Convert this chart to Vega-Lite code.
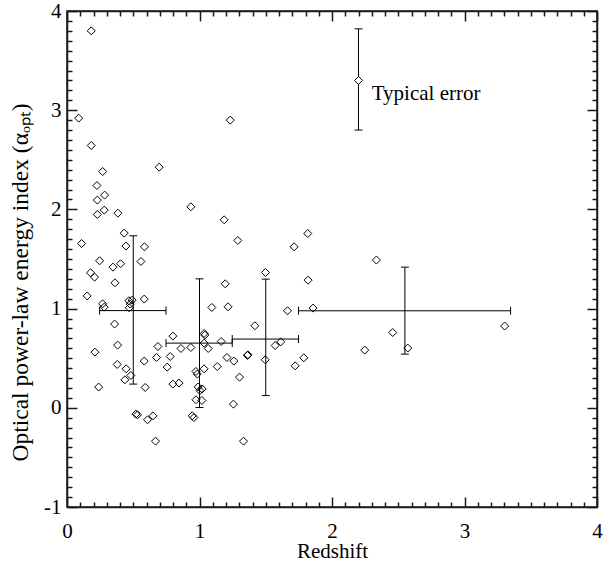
{
  "$schema": "https://vega.github.io/schema/vega-lite/v6.json",
  "width": 530,
  "height": 496,
  "autosize": {"type": "none"},
  "padding": {"left": 67, "top": 11, "right": 6, "bottom": 60},
  "background": "white",
  "config": {
    "view": {"stroke": "#1a1a1a", "strokeWidth": 1.5},
    "font": "Liberation Serif",
    "axis": {
      "grid": false,
      "domainColor": "#1a1a1a",
      "domainWidth": 1.5,
      "tickColor": "#1a1a1a",
      "tickWidth": 1.5,
      "labelColor": "#000000",
      "titleColor": "#000000",
      "labelFont": "Liberation Serif",
      "titleFont": "Liberation Serif",
      "labelFontSize": 21,
      "titleFontSize": 21,
      "titleFontWeight": "normal"
    }
  },
  "datasets": {
    "pts": [
      {"z": 0.183, "a": 3.80}, {"z": 0.088, "a": 2.92}, {"z": 1.232, "a": 2.90}, {"z": 0.183, "a": 2.644},
      {"z": 0.269, "a": 2.382}, {"z": 0.696, "a": 2.426}, {"z": 0.226, "a": 2.241}, {"z": 0.284, "a": 2.144},
      {"z": 0.229, "a": 2.094}, {"z": 0.281, "a": 1.993}, {"z": 0.229, "a": 1.949}, {"z": 0.384, "a": 1.962},
      {"z": 0.935, "a": 2.026}, {"z": 1.186, "a": 1.895}, {"z": 1.289, "a": 1.687}, {"z": 0.110, "a": 1.656},
      {"z": 0.432, "a": 1.761}, {"z": 0.445, "a": 1.630}, {"z": 0.585, "a": 1.623}, {"z": 0.246, "a": 1.482},
      {"z": 0.558, "a": 1.475}, {"z": 0.347, "a": 1.418}, {"z": 0.404, "a": 1.452}, {"z": 0.178, "a": 1.361},
      {"z": 0.208, "a": 1.317}, {"z": 0.362, "a": 1.260}, {"z": 1.194, "a": 1.250}, {"z": 0.152, "a": 1.128},
      {"z": 0.269, "a": 1.048}, {"z": 0.281, "a": 1.015}, {"z": 0.467, "a": 1.079}, {"z": 0.492, "a": 1.086},
      {"z": 0.477, "a": 1.045}, {"z": 0.470, "a": 1.008}, {"z": 0.583, "a": 1.096}, {"z": 1.093, "a": 1.011},
      {"z": 1.216, "a": 1.018}, {"z": 0.359, "a": 0.844}, {"z": 0.382, "a": 0.632}, {"z": 0.211, "a": 0.561},
      {"z": 0.799, "a": 0.723}, {"z": 0.686, "a": 0.618}, {"z": 0.860, "a": 0.598}, {"z": 0.935, "a": 0.608},
      {"z": 1.035, "a": 0.749}, {"z": 1.040, "a": 0.733}, {"z": 1.035, "a": 0.652}, {"z": 1.066, "a": 0.598},
      {"z": 1.164, "a": 0.668}, {"z": 1.207, "a": 0.507}, {"z": 1.259, "a": 0.471}, {"z": 1.362, "a": 0.527},
      {"z": 0.583, "a": 0.471}, {"z": 0.676, "a": 0.507}, {"z": 0.779, "a": 0.517}, {"z": 0.379, "a": 0.437},
      {"z": 0.447, "a": 0.393}, {"z": 0.756, "a": 0.410}, {"z": 1.134, "a": 0.416}, {"z": 1.035, "a": 0.393},
      {"z": 0.973, "a": 0.366}, {"z": 0.983, "a": 0.340}, {"z": 0.437, "a": 0.282}, {"z": 0.482, "a": 0.326},
      {"z": 0.239, "a": 0.209}, {"z": 0.590, "a": 0.205}, {"z": 0.799, "a": 0.239}, {"z": 0.845, "a": 0.249},
      {"z": 1.302, "a": 0.309}, {"z": 0.990, "a": 0.210}, {"z": 1.020, "a": 0.190}, {"z": 1.003, "a": 0.175},
      {"z": 0.973, "a": 0.081}, {"z": 1.018, "a": 0.074}, {"z": 1.256, "a": 0.037}, {"z": 0.520, "a": -0.064},
      {"z": 0.532, "a": -0.071}, {"z": 0.649, "a": -0.081}, {"z": 0.608, "a": -0.121}, {"z": 0.945, "a": -0.081},
      {"z": 0.958, "a": -0.098}, {"z": 0.668, "a": -0.336}, {"z": 1.332, "a": -0.336}, {"z": 1.820, "a": 1.287},
      {"z": 1.664, "a": 0.978}, {"z": 1.857, "a": 1.005}, {"z": 1.418, "a": 0.827}, {"z": 1.571, "a": 0.628},
      {"z": 1.613, "a": 0.665}, {"z": 1.365, "a": 0.534}, {"z": 1.496, "a": 0.484}, {"z": 1.722, "a": 0.423},
      {"z": 1.787, "a": 0.504}, {"z": 1.714, "a": 1.623}, {"z": 1.817, "a": 1.757}, {"z": 1.498, "a": 1.364},
      {"z": 2.335, "a": 1.489}, {"z": 2.458, "a": 0.759}, {"z": 2.247, "a": 0.582}, {"z": 2.572, "a": 0.602},
      {"z": 3.303, "a": 0.824}
    ],
    "bins": [
      {"zc": 0.50, "ac": 0.98, "zlo": 0.246, "zhi": 0.747, "alo": 0.239, "ahi": 1.734},
      {"zc": 1.00, "ac": 0.652, "zlo": 0.747, "zhi": 1.247, "alo": 0.003, "ahi": 1.30},
      {"zc": 1.50, "ac": 0.693, "zlo": 1.247, "zhi": 1.747, "alo": 0.123, "ahi": 1.297},
      {"zc": 2.55, "ac": 0.978, "zlo": 1.747, "zhi": 3.348, "alo": 0.541, "ahi": 1.418}
    ],
    "typ": [
      {"zc": 2.20, "ac": 3.30, "alo": 2.80, "ahi": 3.82, "label": "Typical error", "tz": 2.30, "ta": 3.16}
    ]
  },
  "resolve": {"scale": {"x": "shared", "y": "shared"}, "axis": {"x": "independent", "y": "independent"}},
  "layer": [
    {
      "data": {"name": "pts"},
      "mark": {"type": "point", "shape": "diamond", "size": 64, "filled": false, "stroke": "black", "strokeWidth": 1, "opacity": 1},
      "encoding": {
        "x": {"field": "z", "type": "quantitative",
          "scale": {"domain": [0, 4], "nice": false, "zero": false},
          "axis": {
            "orient": "bottom", "title": "Redshift", "titleBaseline": "alphabetic", "titleY": 50,
            "values": [0, 1, 2, 3, 4], "tickSize": -10, "labelPadding": 23,
            "labelFlush": false, "labelOverlap": false,
            "labelExpr": "'' + datum.value"
          }},
        "y": {"field": "a", "type": "quantitative",
          "scale": {"domain": [-1, 4], "nice": false, "zero": false},
          "axis": {
            "orient": "left", "title": "Optical power-law energy index (αₒₚₜ)",
            "titleFontSize": 23.5, "titleY": 271, "titleX": -40, "titleBaseline": "alphabetic",
            "values": [-1, 0, 1, 2, 3, 4], "tickSize": -10, "labelPadding": 16,
            "labelFlush": false, "labelOverlap": false,
            "labelExpr": "'' + datum.value"
          }}
      }
    },
    {
      "data": {"name": "bins"},
      "mark": {"type": "rule", "color": "black", "strokeWidth": 1},
      "encoding": {
        "x": {"field": "zlo", "type": "quantitative",
          "axis": {"orient": "top", "title": "", "labelColor": "transparent", "values": [0, 1, 2, 3, 4], "tickSize": -10}},
        "x2": {"field": "zhi"},
        "y": {"field": "ac", "type": "quantitative",
          "axis": {"orient": "right", "title": "", "labelColor": "transparent", "values": [-1, 0, 1, 2, 3, 4], "tickSize": -10}}
      }
    },
    {
      "data": {"name": "bins"},
      "mark": {"type": "rule", "color": "black", "strokeWidth": 1},
      "encoding": {
        "x": {"field": "zc", "type": "quantitative",
          "axis": {"orient": "bottom", "title": "", "labels": false, "domain": false, "tickSize": -5,
            "values": [0.1,0.2,0.3,0.4,0.5,0.6,0.7,0.8,0.9,1.1,1.2,1.3,1.4,1.5,1.6,1.7,1.8,1.9,2.1,2.2,2.3,2.4,2.5,2.6,2.7,2.8,2.9,3.1,3.2,3.3,3.4,3.5,3.6,3.7,3.8,3.9]}},
        "y": {"field": "alo", "type": "quantitative",
          "axis": {"orient": "left", "title": "", "labels": false, "domain": false, "tickSize": -5,
            "values": [-0.9,-0.8,-0.7,-0.6,-0.5,-0.4,-0.3,-0.2,-0.1,0.1,0.2,0.3,0.4,0.5,0.6,0.7,0.8,0.9,1.1,1.2,1.3,1.4,1.5,1.6,1.7,1.8,1.9,2.1,2.2,2.3,2.4,2.5,2.6,2.7,2.8,2.9,3.1,3.2,3.3,3.4,3.5,3.6,3.7,3.8,3.9]}},
        "y2": {"field": "ahi"}
      }
    },
    {
      "data": {"name": "typ"},
      "mark": {"type": "rule", "color": "black", "strokeWidth": 1},
      "encoding": {
        "x": {"field": "zc", "type": "quantitative",
          "axis": {"orient": "top", "title": "", "labels": false, "domain": false, "tickSize": -5,
            "values": [0.1,0.2,0.3,0.4,0.5,0.6,0.7,0.8,0.9,1.1,1.2,1.3,1.4,1.5,1.6,1.7,1.8,1.9,2.1,2.2,2.3,2.4,2.5,2.6,2.7,2.8,2.9,3.1,3.2,3.3,3.4,3.5,3.6,3.7,3.8,3.9]}},
        "y": {"field": "alo", "type": "quantitative",
          "axis": {"orient": "right", "title": "", "labels": false, "domain": false, "tickSize": -5,
            "values": [-0.9,-0.8,-0.7,-0.6,-0.5,-0.4,-0.3,-0.2,-0.1,0.1,0.2,0.3,0.4,0.5,0.6,0.7,0.8,0.9,1.1,1.2,1.3,1.4,1.5,1.6,1.7,1.8,1.9,2.1,2.2,2.3,2.4,2.5,2.6,2.7,2.8,2.9,3.1,3.2,3.3,3.4,3.5,3.6,3.7,3.8,3.9]}},
        "y2": {"field": "ahi"}
      }
    },
    {
      "data": {"name": "bins"},
      "mark": {"type": "tick", "orient": "horizontal", "color": "black", "size": 8, "thickness": 1, "opacity": 1},
      "encoding": {
        "x": {"field": "zc", "type": "quantitative", "axis": null},
        "y": {"field": "alo", "type": "quantitative", "axis": null}
      }
    },
    {
      "data": {"name": "bins"},
      "mark": {"type": "tick", "orient": "horizontal", "color": "black", "size": 8, "thickness": 1, "opacity": 1},
      "encoding": {
        "x": {"field": "zc", "type": "quantitative", "axis": null},
        "y": {"field": "ahi", "type": "quantitative", "axis": null}
      }
    },
    {
      "data": {"name": "bins"},
      "mark": {"type": "tick", "orient": "vertical", "color": "black", "size": 8, "thickness": 1, "opacity": 1},
      "encoding": {
        "x": {"field": "zlo", "type": "quantitative", "axis": null},
        "y": {"field": "ac", "type": "quantitative", "axis": null}
      }
    },
    {
      "data": {"name": "bins"},
      "mark": {"type": "tick", "orient": "vertical", "color": "black", "size": 8, "thickness": 1, "opacity": 1},
      "encoding": {
        "x": {"field": "zhi", "type": "quantitative", "axis": null},
        "y": {"field": "ac", "type": "quantitative", "axis": null}
      }
    },
    {
      "data": {"name": "typ"},
      "mark": {"type": "tick", "orient": "horizontal", "color": "black", "size": 8, "thickness": 1, "opacity": 1},
      "encoding": {
        "x": {"field": "zc", "type": "quantitative", "axis": null},
        "y": {"field": "alo", "type": "quantitative", "axis": null}
      }
    },
    {
      "data": {"name": "typ"},
      "mark": {"type": "tick", "orient": "horizontal", "color": "black", "size": 8, "thickness": 1, "opacity": 1},
      "encoding": {
        "x": {"field": "zc", "type": "quantitative", "axis": null},
        "y": {"field": "ahi", "type": "quantitative", "axis": null}
      }
    },
    {
      "data": {"name": "typ"},
      "mark": {"type": "point", "shape": "diamond", "size": 64, "filled": true, "fill": "white", "stroke": "black", "strokeWidth": 1, "opacity": 1},
      "encoding": {
        "x": {"field": "zc", "type": "quantitative", "axis": null},
        "y": {"field": "ac", "type": "quantitative", "axis": null}
      }
    },
    {
      "data": {"name": "typ"},
      "mark": {"type": "text", "align": "left", "baseline": "middle", "font": "Liberation Serif", "fontSize": 21, "color": "black"},
      "encoding": {
        "x": {"field": "tz", "type": "quantitative", "axis": null},
        "y": {"field": "ta", "type": "quantitative", "axis": null},
        "text": {"field": "label"}
      }
    }
  ]
}
